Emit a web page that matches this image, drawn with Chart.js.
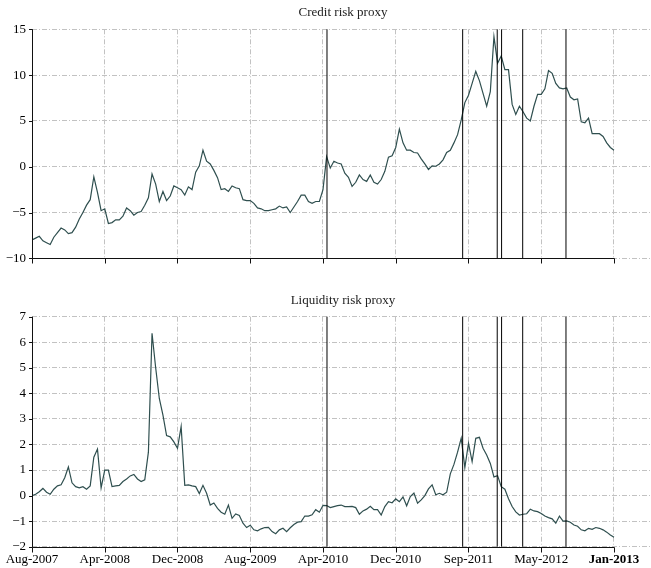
<!DOCTYPE html>
<html>
<head>
<meta charset="utf-8">
<script src="https://cdn.jsdelivr.net/npm/chart.js@4.4.1/dist/chart.umd.min.js"></script>
<style>
  html, body { margin: 0; padding: 0; background: #ffffff; overflow: hidden; width: 651px; height: 568px; }
  .panel { position: absolute; left: 0; }
  #topPanel { top: 0; }
  #bottomPanel { top: 280px; }
</style>
</head>
<body>
<div class="panel" id="topPanel"><canvas id="credit" width="660" height="280"></canvas></div>
<div class="panel" id="bottomPanel"><canvas id="liquidity" width="660" height="288"></canvas></div>
<script>
// Weekly-ish observation index on the x axis, with date labels every 20 observations
const dateLabels = ['Aug-2007', 'Apr-2008', 'Dec-2008', 'Aug-2009', 'Apr-2010', 'Dec-2010', 'Sep-2011', 'May-2012', 'Jan-2013'];
const tickIndex = [0, 20, 40, 60, 80, 100, 120, 140, 160];

// Observation positions of the marked events (vertical lines)
const eventIndex = [81.1, 118.4, 127.9, 129.1, 134.9, 146.8];

const creditTicks = [-10, -5, 0, 5, 10, 15];
const liquidityTicks = [-2, -1, 0, 1, 2, 3, 4, 5, 6, 7];

const creditRisk = [
  -8.0, -7.8, -7.6, -8.1, -8.3, -8.5, -7.7, -7.2, -6.7, -6.9,
  -7.3, -7.2, -6.6, -5.7, -5.0, -4.2, -3.6, -1.1, -2.8, -4.8,
  -4.6, -6.2, -6.1, -5.8, -5.8, -5.4, -4.5, -4.8, -5.3, -5.0,
  -4.9, -4.2, -3.4, -0.8, -1.9, -3.8, -2.7, -3.7, -3.2, -2.1,
  -2.3, -2.5, -3.1, -2.2, -2.5, -0.6, 0.1, 1.8, 0.6, 0.3,
  -0.4, -1.2, -2.5, -2.4, -2.7, -2.1, -2.3, -2.4, -3.6, -3.7,
  -3.7, -4.0, -4.5, -4.6, -4.8, -4.8, -4.7, -4.6, -4.3, -4.5,
  -4.4, -5.0, -4.4, -3.8, -3.1, -3.1, -3.8, -4.0, -3.8, -3.8,
  -2.5, 1.1, -0.15, 0.6, 0.4, 0.3, -0.7, -1.15, -2.15, -1.7,
  -0.9, -1.4, -1.6, -0.9, -1.7, -1.9, -1.4, -0.5, 1.05, 1.2,
  2.1, 4.1, 2.6, 1.8, 1.8, 1.55, 1.5, 0.85, 0.3, -0.3,
  0.1, 0.05, 0.3, 0.75, 1.55, 1.8, 2.6, 3.5, 5.1, 7.0,
  7.8, 9.1, 10.4, 9.4, 8.0, 6.6, 8.2, 14.2, 11.3, 12.1,
  10.6, 10.6, 6.8, 5.7, 6.6, 6.0, 5.3, 5.0, 6.6, 7.9,
  7.9, 8.5, 10.5, 10.2, 9.1, 8.6, 8.5, 8.6, 7.6, 7.3,
  7.4, 4.9, 4.8, 5.3, 3.6, 3.6, 3.6, 3.3, 2.6, 2.1,
  1.8
];

const liquidityRisk = [
  0.0, 0.05, 0.15, 0.28, 0.13, 0.05, 0.25, 0.38, 0.42, 0.7,
  1.12, 0.5, 0.35, 0.3, 0.35, 0.25, 0.38, 1.5, 1.82, 0.3,
  1.0, 1.0, 0.35, 0.38, 0.4, 0.55, 0.65, 0.77, 0.83, 0.65,
  0.55, 0.62, 1.7, 6.35, 5.0, 3.8, 3.15, 2.35, 2.3, 2.1,
  1.85, 2.7, 0.4, 0.42, 0.38, 0.35, 0.08, 0.4, 0.09, -0.37,
  -0.29, -0.5, -0.65, -0.73, -0.37, -0.89, -0.72, -0.78, -1.08, -1.25,
  -1.16, -1.34, -1.38, -1.3, -1.25, -1.24, -1.41, -1.49, -1.34, -1.28,
  -1.41, -1.26, -1.13, -1.04, -1.02, -0.8, -0.8, -0.75, -0.55, -0.65,
  -0.38, -0.39, -0.47, -0.43, -0.39, -0.37, -0.43, -0.43, -0.42, -0.47,
  -0.73, -0.6, -0.53, -0.42, -0.55, -0.55, -0.76, -0.43, -0.24, -0.28,
  -0.13, -0.24, -0.05, -0.4, -0.04, 0.1, -0.3, -0.17, 0.0, 0.26,
  0.42, 0.03, 0.09, 0.03, 0.13, 0.85, 1.22, 1.7, 2.25, 1.1,
  2.05, 1.33, 2.24, 2.28, 1.85, 1.59, 1.26, 0.73, 0.78, 0.35,
  0.25, -0.12, -0.43, -0.64, -0.76, -0.73, -0.71, -0.53, -0.6, -0.63,
  -0.7, -0.8, -0.86, -0.91, -1.08, -0.8, -1.0, -0.99, -1.04, -1.15,
  -1.2, -1.34, -1.38, -1.28, -1.32, -1.25, -1.28, -1.34, -1.43, -1.54,
  -1.63
];

const SERIF = "'Liberation Serif', 'DejaVu Serif', serif";
const LINE_COLOR = '#2f4f4f';
const GRID_COLOR = '#c2c2c2';
const X_MAX = 171;

// Spines, tick marks, event lines and panel title
const framePlugin = {
  id: 'frame',
  afterDraw(chart, args, opts) {
    const { ctx, chartArea: a, scales: { x, y } } = chart;
    ctx.save();
    ctx.strokeStyle = '#000';
    ctx.lineWidth = 1;

    // event lines
    eventIndex.forEach(ev => {
      const px = x.getPixelForValue(ev);
      ctx.beginPath();
      ctx.moveTo(px, a.top);
      ctx.lineTo(px, a.bottom);
      ctx.stroke();
    });

    const lx = Math.round(a.left) + 0.5;
    const by = Math.round(a.bottom) + 0.5;
    const lastX = x.getPixelForValue(tickIndex[tickIndex.length - 1]);

    ctx.strokeStyle = '#111';
    ctx.beginPath();
    ctx.moveTo(lx, a.top);
    ctx.lineTo(lx, by);
    ctx.moveTo(lx, by);
    ctx.lineTo(lastX + 0.5, by);
    ctx.stroke();

    // x tick marks
    ctx.beginPath();
    tickIndex.forEach(t => {
      const px = Math.round(x.getPixelForValue(t)) + 0.5;
      ctx.moveTo(px, by);
      ctx.lineTo(px, by + 5);
    });
    // y tick marks
    opts.yTicks.forEach(t => {
      const py = Math.round(y.getPixelForValue(t)) + 0.5;
      ctx.moveTo(lx - 3.5, py);
      ctx.lineTo(lx, py);
    });
    ctx.stroke();

    // title
    ctx.fillStyle = '#222';
    ctx.font = '13px ' + SERIF;
    ctx.textAlign = 'center';
    ctx.textBaseline = 'middle';
    ctx.fillText(opts.title, (a.left + a.right) / 2, opts.titleY);
    ctx.restore();
  }
};

function makePanel(canvasId, title, titleY, values, yTicks, showLabels, areaTop, areaBottom) {
  const canvas = document.getElementById(canvasId);
  const h = canvas.height;
  const yMin = yTicks[0];
  const yMax = yTicks[yTicks.length - 1];
  const points = values.map((v, i) => ({ x: i, y: v }));

  return new Chart(canvas, {
    type: 'line',
    data: {
      datasets: [{
        data: points,
        borderColor: LINE_COLOR,
        borderWidth: 1.2,
        pointRadius: 0,
        tension: 0,
        fill: false
      }]
    },
    options: {
      responsive: false,
      animation: false,
      devicePixelRatio: 1,
      layout: { autoPadding: false, padding: { top: areaTop, right: 6, bottom: 0, left: 0 } },
      plugins: {
        legend: { display: false },
        tooltip: { enabled: false },
        title: { display: false },
        frame: { title: title, titleY: titleY, yTicks: yTicks }
      },
      scales: {
        x: {
          type: 'linear',
          min: 0,
          max: X_MAX,
          afterBuildTicks(scale) { scale.ticks = tickIndex.map(v => ({ value: v })); },
          afterFit(scale) { scale.height = h - areaBottom; },
          grid: { color: GRID_COLOR, lineWidth: 1, drawTicks: false },
          border: { display: false, dash: [5, 2, 1, 2] },
          ticks: {
            display: showLabels,
            autoSkip: false,
            maxRotation: 0,
            padding: 5,
            color: '#000',
            font: (c) => ({ family: SERIF, size: 13, weight: (c.index === tickIndex.length - 1) ? 'bold' : 'normal' }),
            callback: (v) => dateLabels[tickIndex.indexOf(v)]
          }
        },
        y: {
          type: 'linear',
          min: yMin,
          max: yMax,
          afterBuildTicks(scale) { scale.ticks = yTicks.map(v => ({ value: v })); },
          afterFit(scale) { scale.width = 32; },
          grid: { color: GRID_COLOR, lineWidth: 1, drawTicks: false },
          border: { display: false, dash: [5, 2, 1, 2] },
          ticks: {
            padding: 6,
            color: '#000',
            font: { family: SERIF, size: 13 },
            callback: (v) => (v < 0 ? '\u2212' + Math.abs(v) : String(v))
          }
        }
      }
    },
    plugins: [framePlugin]
  });
}

makePanel('credit', 'Credit risk proxy', 13, creditRisk, creditTicks, false, 29.3, 258.3);
makePanel('liquidity', 'Liquidity risk proxy', 21, liquidityRisk, liquidityTicks, true, 36.7, 266.7);
</script>
</body>
</html>
